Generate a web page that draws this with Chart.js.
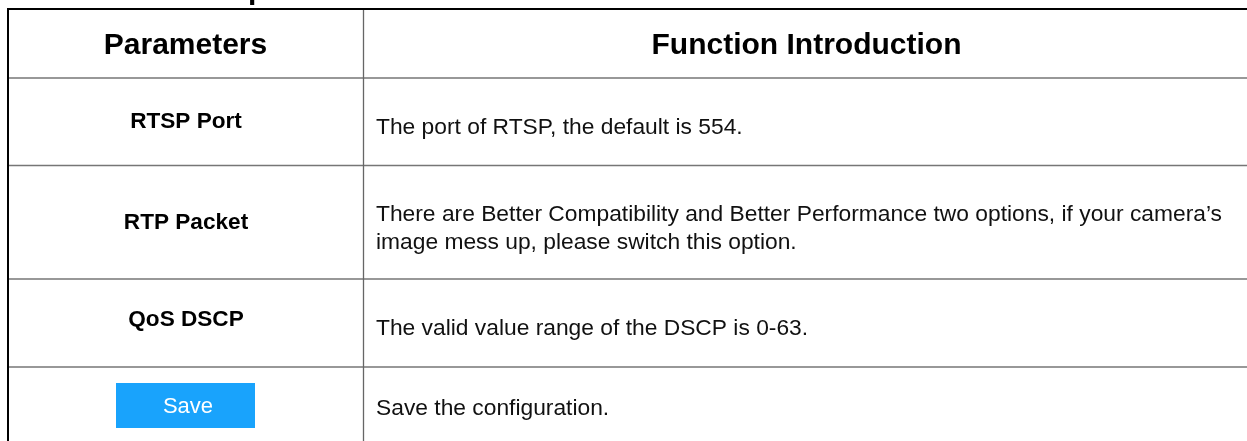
<!DOCTYPE html>
<html>
<head>
<meta charset="utf-8">
<title>RTSP Parameters</title>
<script src="https://cdn.jsdelivr.net/npm/chart.js@4/dist/chart.umd.min.js"></script>
<style>
  html, body { margin: 0; padding: 0; background: #fff; }
  #wrap { width: 1247px; height: 441px; }
</style>
</head>
<body>
<div id="wrap"><canvas id="tableChart" width="1247" height="441"></canvas></div>
<script>
  // Table content
  const headers = ['Parameters', 'Function Introduction'];
  const parameters = ['RTSP Port', 'RTP Packet', 'QoS DSCP', 'Save'];
  const descriptions = [
    ['The port of RTSP, the default is 554.'],
    ['There are Better Compatibility and Better Performance two options, if your camera\u2019s',
     'image mess up, please switch this option.'],
    ['The valid value range of the DSCP is 0-63.'],
    ['Save the configuration.']
  ];

  // Layout (in scale units = page pixels)
  const ROW_LINES = [9, 78, 165.5, 279, 367];
  const COL_LINES = [8, 363, 1250];
  const HEADER_BASE = 54;
  const LABEL_BASE = [128, 229, 326, 413];
  const DESC_BASE = [[133.5], [221, 249], [335], [415]];
  const FONT = '"Liberation Sans", Arial, Helvetica, sans-serif';

  document.addEventListener('DOMContentLoaded', function() {
    initTable();
  });

  // Draw one piece of text
  function drawText(ctx, text, x, y, font, color, align) {
    ctx.save();
    ctx.font = font;
    ctx.fillStyle = color;
    ctx.textBaseline = 'alphabetic';
    ctx.textAlign = align;
    ctx.fillText(text, x, y);
    ctx.restore();
  }

  function line(ctx, x1, y1, x2, y2, color, width) {
    ctx.save();
    ctx.strokeStyle = color;
    ctx.lineWidth = width;
    ctx.beginPath();
    ctx.moveTo(x1, y1);
    ctx.lineTo(x2, y2);
    ctx.stroke();
    ctx.restore();
  }

  const tablePlugin = {
    id: 'tablePlugin',
    afterDraw(chart) {
      const ctx = chart.ctx;
      const xs = chart.scales.x;
      const ys = chart.scales.y;
      const px = v => xs.getPixelForValue(v);
      const py = v => ys.getPixelForValue(v);
      const bottom = py(441);
      const right = px(1247);

      // bit of the heading above the table
      drawText(ctx, 'p', px(248), py(-1), 'bold 30px ' + FONT, '#000', 'left');

      // row separators
      for (let i = 1; i < ROW_LINES.length; i++) {
        line(ctx, px(COL_LINES[0]), py(ROW_LINES[i]), right, py(ROW_LINES[i]), '#767676', 1.5);
      }
      // column divider
      line(ctx, px(COL_LINES[1]) + 0.5, py(ROW_LINES[0]), px(COL_LINES[1]) + 0.5, bottom, '#666', 1.3);
      // outer borders
      line(ctx, px(COL_LINES[0]) - 1, py(ROW_LINES[0]), right, py(ROW_LINES[0]), '#000', 2);
      line(ctx, px(COL_LINES[0]), py(ROW_LINES[0]) - 1, px(COL_LINES[0]), bottom, '#000', 2);

      // header
      const c1 = (COL_LINES[0] + COL_LINES[1]) / 2;
      const c2 = (COL_LINES[1] + COL_LINES[2]) / 2;
      drawText(ctx, headers[0], px(c1), py(HEADER_BASE), 'bold 30px ' + FONT, '#000', 'center');
      drawText(ctx, headers[1], px(c2), py(HEADER_BASE), 'bold 30px ' + FONT, '#000', 'center');

      // rows
      parameters.forEach((p, i) => {
        if (p === 'Save') {
          ctx.save();
          ctx.fillStyle = '#19a3fc';
          ctx.fillRect(px(116), py(383), px(255) - px(116), py(428) - py(383));
          ctx.restore();
          drawText(ctx, p, px(188), py(LABEL_BASE[i]), '22px ' + FONT, '#fff', 'center');
        } else {
          drawText(ctx, p, px(c1 + 0.5), py(LABEL_BASE[i]), 'bold 22.6px ' + FONT, '#000', 'center');
        }
        descriptions[i].forEach((t, j) => {
          drawText(ctx, t, px(376), py(DESC_BASE[i][j]), '22.8px ' + FONT, '#111', 'left');
        });
      });
    }
  };

  function initTable() {
    const ctx = document.getElementById('tableChart').getContext('2d');
    new Chart(ctx, {
      type: 'scatter',
      data: { datasets: [{ data: [], pointRadius: 0 }] },
      options: {
        responsive: false,
        animation: false,
        layout: { padding: 0 },
        plugins: { legend: { display: false }, tooltip: { enabled: false } },
        scales: {
          x: { type: 'linear', min: 0, max: 1247, display: false },
          y: { type: 'linear', min: 0, max: 441, reverse: true, display: false }
        }
      },
      plugins: [tablePlugin]
    });
  }
</script>
</body>
</html>
